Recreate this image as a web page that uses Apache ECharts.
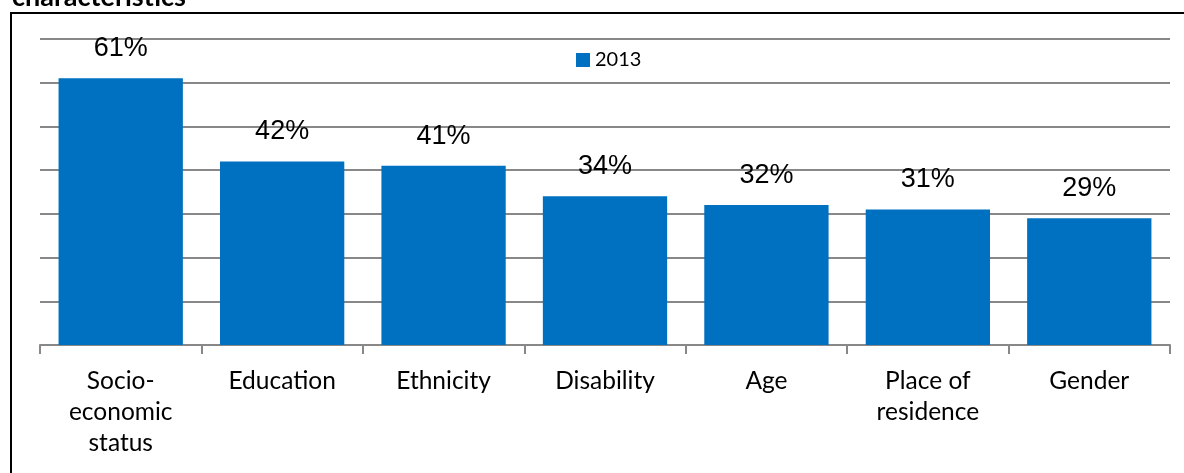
<!DOCTYPE html>
<html>
<head>
<meta charset="utf-8">
<script src="https://cdn.jsdelivr.net/npm/echarts@6/dist/echarts.min.js"></script>
<style>html,body{margin:0;padding:0;background:#fff}#c{width:1184px;height:473px}</style>
</head>
<body>
<div id="c"></div>
<script>
var categories = ['Socio-\neconomic\nstatus', 'Education', 'Ethnicity', 'Disability', 'Age', 'Place of\nresidence', 'Gender'];
var values2013 = [61, 42, 41, 34, 32, 31, 29];
var seriesName = '2013';
var titleText = 'characteristics';

var chart = echarts.init(document.getElementById('c'));
chart.setOption({
  animation: false,
  backgroundColor: '#ffffff',
  graphic: [
    { type: 'rect', shape: { x: 11, y: 13, width: 1200, height: 500 }, style: { fill: 'none', stroke: '#000', lineWidth: 2 }, z: 0 },
    { type: 'text', left: 12, top: -16, style: { text: titleText, font: 'bold 27px Lato, sans-serif', fill: '#000' } }
  ],
  legend: {
    data: [seriesName],
    left: 571, top: 45,
    itemWidth: 14, itemHeight: 14, itemGap: 6,
    icon: 'rect',
    textStyle: { fontFamily: 'Lato, sans-serif', fontSize: 20, color: '#000' }
  },
  grid: { left: 40, right: 14, top: 39, bottom: 128, containLabel: false },
  xAxis: {
    type: 'category',
    data: categories,
    axisLine: { lineStyle: { color: '#888', width: 2 } },
    axisTick: { show: true, alignWithLabel: false, length: 9, lineStyle: { color: '#888', width: 2 } },
    axisLabel: { interval: 0, margin: 21, fontFamily: 'Lato, sans-serif', fontSize: 24.5, color: '#000', lineHeight: 31 }
  },
  yAxis: {
    type: 'value', min: 0, max: 70, interval: 10,
    axisLabel: { show: false },
    axisLine: { show: false },
    axisTick: { show: false },
    splitLine: { lineStyle: { color: '#888', width: 2 } }
  },
  series: [{
    name: seriesName,
    type: 'bar',
    data: values2013,
    barCategoryGap: '23%',
    itemStyle: { color: '#0070C0' },
    label: { show: true, position: 'top', distance: 16, formatter: '{c}%', fontFamily: '"Liberation Sans", Arial, sans-serif', fontSize: 27, color: '#000' }
  }]
});
</script>
</body>
</html>
